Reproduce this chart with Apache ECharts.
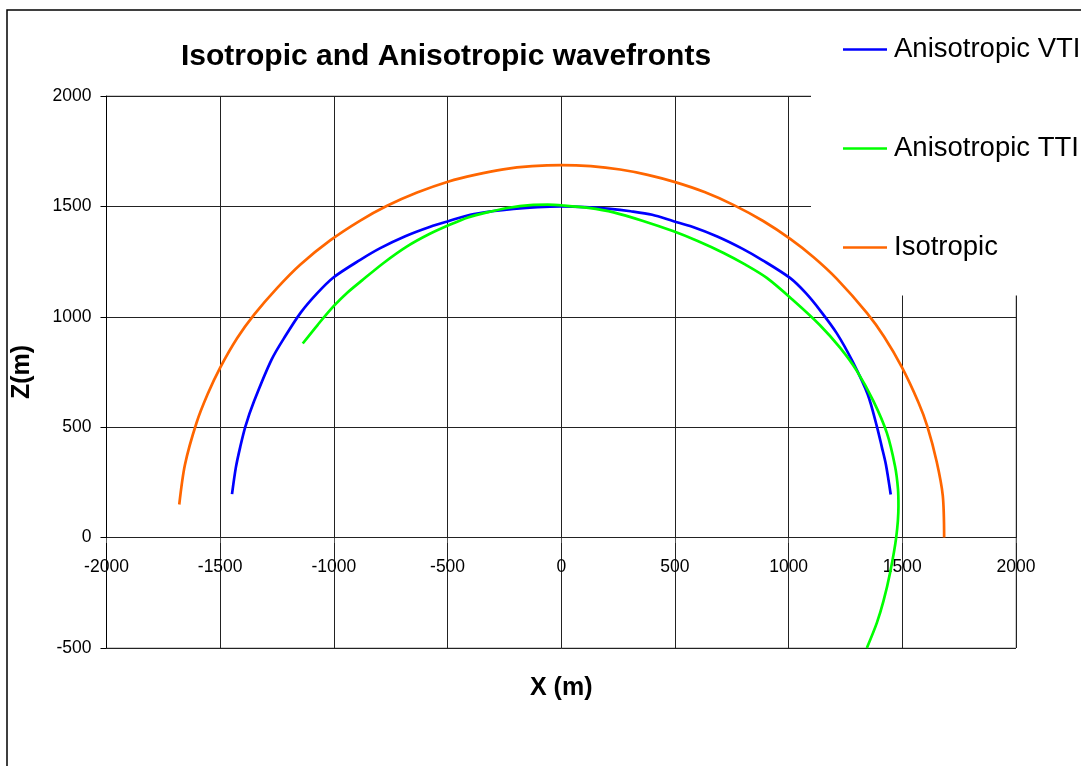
<!DOCTYPE html>
<html>
<head>
<meta charset="utf-8">
<script src="https://cdn.jsdelivr.net/npm/echarts@6/dist/echarts.min.js"></script>
<style>
html,body{margin:0;padding:0;background:#fff;}
#chart{width:1081px;height:766px;}
</style>
</head>
<body>
<div id="chart"></div>
<script>
// ---- data (X in m, Z in m) ----
const seriesNames = ['Anisotropic VTI', 'Anisotropic TTI', 'Isotropic'];
const xTicks = [-2000, -1500, -1000, -500, 0, 500, 1000, 1500, 2000];
const zTicks = [-500, 0, 500, 1000, 1500, 2000];

const vtiX = [-1448,-1431,-1412,-1389,-1352,-1274,-1212,-1145,-1075,-1002,-884,-796,-686,-576,-494,-400,-305,-210,-105,0,105,215,305,400,494,576,686,796,884,1006,1075,1140,1212,1280,1348,1388,1410,1428,1449];
const vtiZ = [197,318,410,504,615,806,915,1020,1105,1178,1258,1311,1365,1408,1434,1462,1478,1489,1497,1500,1497,1489,1478,1462,1433,1408,1364,1309,1257,1176,1108,1027,925,800,648,504,410,330,195];

const ttiX = [-1137,-1070,-1001,-940,-876,-780,-678,-580,-488,-410,-327,-230,-136,-60,10,120,230,360,494,600,714,810,904,1020,1138,1226,1300,1373,1432,1468,1481,1483,1473,1446,1417,1388,1344];
const ttiZ = [879,965,1048,1110,1165,1245,1319,1375,1418,1450,1473,1494,1506,1508,1504,1493,1473,1434,1387,1343,1289,1236,1176,1075,962,860,755,618,474,323,220,142,0,-160,-288,-386,-500];

const isoX = [-1680,-1655,-1604,-1555,-1500,-1425,-1349,-1250,-1147,-1015,-884,-766,-634,-495,-380,-255,-128,0,130,259,380,501,630,757,888,1007,1110,1212,1344,1420,1498,1571,1610,1651,1678,1684];
const isoZ = [150,330,520,650,770,904,1012,1130,1237,1347,1436,1503,1563,1613,1643,1668,1682,1687,1682,1667,1643,1610,1565,1507,1434,1353,1270,1172,1018,910,772,612,504,345,190,0];

const colors = ['#0000FF', '#00FF00', '#FF6600'];

function pairs(xs, zs) { return xs.map((x, i) => [x, zs[i]]); }

const FONT = "'Liberation Sans', Arial, sans-serif";
const chart = echarts.init(document.getElementById('chart'), null, {renderer: 'canvas'});

const dataSets = [pairs(vtiX, vtiZ), pairs(ttiX, ttiZ), pairs(isoX, isoZ)];
const plain = v => String(v);

chart.setOption({
  animation: false,
  backgroundColor: '#ffffff',
  textStyle: {fontFamily: FONT},
  title: {
    text: 'Isotropic and Anisotropic wavefronts',
    left: 181,
    top: 42,
    padding: 0,
    textStyle: {fontFamily: FONT, fontSize: 30, fontWeight: 'bold', color: '#000'}
  },
  legend: {
    orient: 'vertical',
    left: 843,
    top: 35.5,
    padding: 0,
    icon: 'rect',
    itemWidth: 44,
    itemHeight: 2.6,
    itemGap: 71,
    data: seriesNames,
    textStyle: {fontFamily: FONT, fontSize: 27.5, color: '#000', lineHeight: 27, padding: [0, 0, 0, 2]}
  },
  graphic: [
    {type: 'rect', z: -10, silent: true,
     shape: {x: 7, y: 10, width: 1300, height: 1000},
     style: {fill: 'none', stroke: '#000', lineWidth: 1.5}},
    {type: 'rect', z: 1, silent: true,
     shape: {x: 811, y: 11.5, width: 300, height: 284},
     style: {fill: '#ffffff', stroke: 'none'}}
  ],
  grid: {
    left: 106.5, right: 65, top: 96, bottom: 118,
    containLabel: false,
    outerBoundsMode: 'none',
    show: true, borderColor: '#999', borderWidth: 1, backgroundColor: 'transparent'
  },
  xAxis: {
    type: 'value',
    position: 'bottom',
    offset: -110,
    min: xTicks[0], max: xTicks[xTicks.length - 1], interval: 500,
    name: 'X (m)',
    nameLocation: 'middle',
    nameGap: 138,
    nameTextStyle: {fontFamily: FONT, fontSize: 25, fontWeight: 'bold', color: '#000'},
    axisLine: {show: false, onZero: false},
    axisTick: {show: true, length: 5, inside: false, lineStyle: {color: '#555'}},
    axisLabel: {fontFamily: FONT, fontSize: 17.5, color: '#000', margin: 20, formatter: plain},
    splitLine: {show: true, lineStyle: {color: '#222', width: 1}}
  },
  yAxis: {
    type: 'value',
    min: zTicks[0], max: zTicks[zTicks.length - 1], interval: 500,
    name: 'Z(m)',
    nameLocation: 'middle',
    nameGap: 72,
    nameTextStyle: {fontFamily: FONT, fontSize: 25, fontWeight: 'bold', color: '#000'},
    axisLine: {show: true, onZero: false, lineStyle: {color: '#000', width: 1}},
    axisTick: {show: true, length: 6, inside: false, lineStyle: {color: '#000'}},
    axisLabel: {fontFamily: FONT, fontSize: 17.5, color: '#000', margin: 15, formatter: plain},
    splitLine: {show: true, lineStyle: {color: '#222', width: 1}}
  },
  series: seriesNames.map((name, i) => ({
    name: name,
    type: 'line',
    data: dataSets[i],
    symbol: 'none',
    showSymbol: false,
    smooth: 0.3,
    clip: true,
    z: 2,
    lineStyle: {color: colors[i], width: 2.7},
    itemStyle: {color: colors[i]}
  }))
});
</script>
</body>
</html>
